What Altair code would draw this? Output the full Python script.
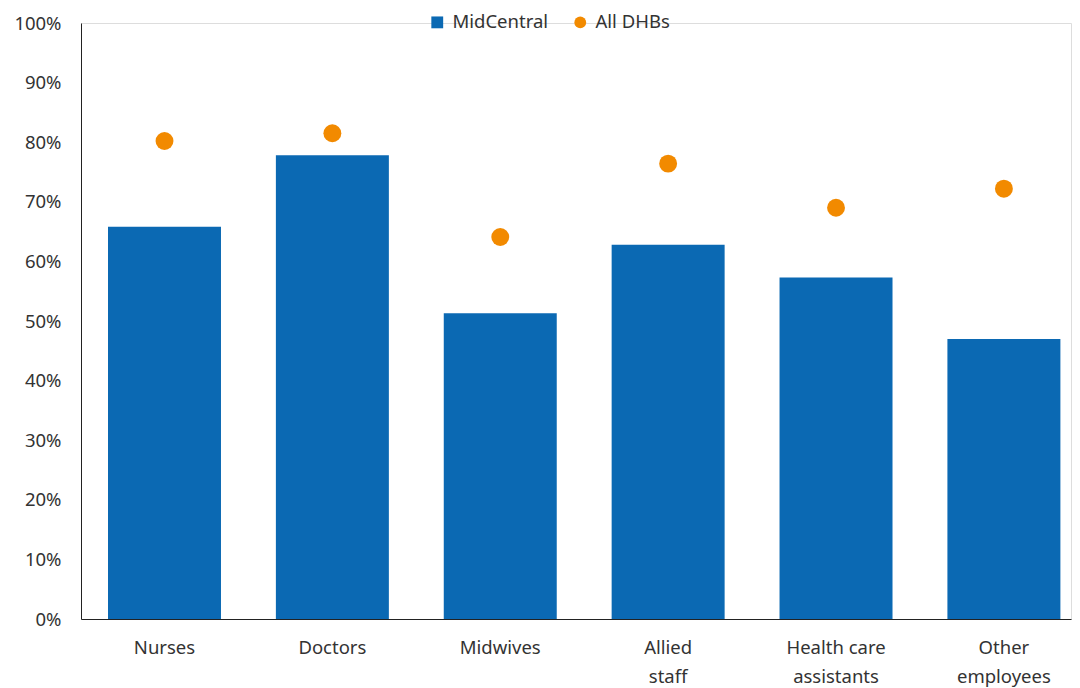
import altair as alt
import pandas as pd

categories = ["Nurses", "Doctors", "Midwives", "Allied\nstaff", "Health care\nassistants", "Other\nemployees"]
midcentral = [65.8, 77.8, 51.3, 62.8, 57.3, 47.0]
all_dhbs = [80.2, 81.5, 64.1, 76.4, 69.0, 72.2]
y_ticks = [0, 10, 20, 30, 40, 50, 60, 70, 80, 90, 100]
series_names = ["MidCentral", "All DHBs"]

BLUE = "#0B69B3"
ORANGE = "#F28A00"
FONT = "Noto Sans"
TEXT = "#333333"

df = pd.DataFrame({"category": categories, "midcentral": midcentral, "all_dhbs": all_dhbs})

legend = alt.Legend(
    title=None, orient="none", legendX=347, legendY=-10, direction="horizontal",
    labelFont=FONT, labelFontSize=18.5, labelColor=TEXT, symbolSize=140,
    labelOffset=6, columnPadding=22, padding=0, symbolStrokeWidth=0,
)
color_scale = alt.Scale(domain=series_names, range=[BLUE, ORANGE])
shape_scale = alt.Scale(domain=series_names, range=["square", "circle"])

x = alt.X(
    "category:N", sort=None, title=None,
    scale=alt.Scale(paddingInner=0.327, paddingOuter=0.112, align=0.718),
    axis=alt.Axis(
        labelAngle=0, ticks=False, tickSize=0, labelPadding=19, domainColor="#222222",
        labelFont=FONT, labelFontSize=18.5, labelColor=TEXT, labelLineHeight=29,
        labelExpr="split(datum.label, '\\n')", grid=False,
    ),
)
y_axis = alt.Axis(
    values=y_ticks, labelExpr="datum.value + '%'", ticks=False, tickSize=0,
    labelPadding=20, domainColor="#222222", grid=False,
    labelFont=FONT, labelFontSize=18.5, labelColor=TEXT, title=None,
)
y_scale = alt.Scale(domain=[0, 100], nice=False)

bars = alt.Chart(df).transform_calculate(series="'MidCentral'").mark_bar(color=BLUE).encode(
    x=x,
    y=alt.Y("midcentral:Q", scale=y_scale, axis=y_axis),
    color=alt.Color("series:N", scale=color_scale, legend=legend),
)

points = alt.Chart(df).transform_calculate(series="'All DHBs'").mark_point(
    filled=True, opacity=1, size=320
).encode(
    x=x,
    y=alt.Y("all_dhbs:Q", scale=y_scale, axis=y_axis),
    color=alt.Color("series:N", scale=color_scale, legend=legend),
    shape=alt.Shape("series:N", scale=shape_scale, legend=legend),
)

chart = alt.layer(bars, points).properties(
    width=990, height=596,
    autosize=alt.AutoSizeParams(type="none"),
    padding={"left": 73, "top": 15, "right": 1, "bottom": 72},
).configure_view(stroke=None).configure(background="white")

chart.save("out.html", embed_options={"renderer": "svg", "actions": False})
